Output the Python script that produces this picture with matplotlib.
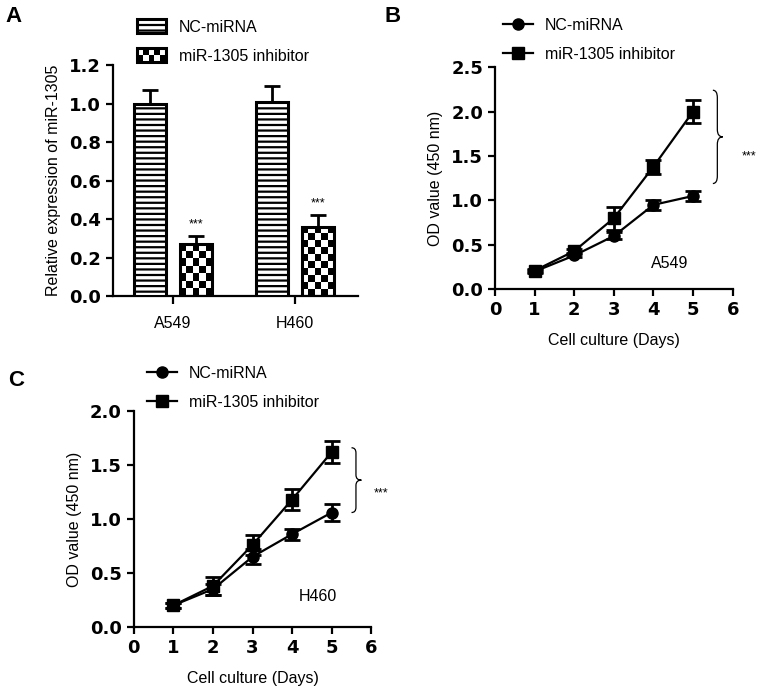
import numpy as np
import matplotlib
matplotlib.use("Agg")
import matplotlib.pyplot as plt
from matplotlib.patches import Rectangle, PathPatch
from matplotlib.path import Path
from matplotlib.lines import Line2D
from matplotlib.legend_handler import HandlerBase

# ---- data ----
cell_lines = ["A549", "H460"]
nc_expr = [1.00, 1.01]
nc_expr_err = [0.07, 0.08]
inh_expr = [0.27, 0.36]
inh_expr_err = [0.045, 0.06]

days = [1, 2, 3, 4, 5]
a549_nc = [0.20, 0.38, 0.60, 0.95, 1.05]
a549_nc_err = [0.02, 0.02, 0.04, 0.06, 0.06]
a549_inh = [0.21, 0.43, 0.80, 1.38, 2.00]
a549_inh_err = [0.02, 0.02, 0.13, 0.08, 0.13]

h460_nc = [0.20, 0.35, 0.65, 0.86, 1.06]
h460_nc_err = [0.02, 0.05, 0.07, 0.05, 0.08]
h460_inh = [0.20, 0.38, 0.76, 1.18, 1.62]
h460_inh_err = [0.02, 0.08, 0.09, 0.10, 0.10]

plt.rcParams['font.family'] = ['Liberation Sans', 'DejaVu Sans']
plt.rcParams['hatch.linewidth'] = 1.6
plt.rcParams['axes.linewidth'] = 1.6

LW = 1.6
tick_font = dict(family='DejaVu Sans', weight='bold', size=13)


def style_axes(ax):
    ax.spines['top'].set_visible(False)
    ax.spines['right'].set_visible(False)
    ax.tick_params(direction='out', length=5, width=LW)
    for lab in ax.get_yticklabels():
        lab.set_fontproperties(matplotlib.font_manager.FontProperties(**tick_font))


def checker(ax, patch, cell_px=7):
    # fill a bar with a black/white checkerboard clipped to the bar
    x, y = patch.get_x(), patch.get_y()
    w, h = patch.get_width(), patch.get_height()
    p0 = ax.transData.transform((x, y))
    p1 = ax.transData.transform((x + w, y + h))
    nx = max(1, int(round((p1[0] - p0[0]) / cell_px)))
    ny = max(1, int(round((p1[1] - p0[1]) / cell_px)))
    board = (np.indices((ny, nx)).sum(axis=0) % 2)
    im = ax.imshow(board, cmap='gray', extent=(x, x + w, y, y + h),
                   aspect='auto', interpolation='nearest', zorder=2)
    im.set_clip_path(patch)


class CheckerHandler(HandlerBase):
    def create_artists(self, legend, orig_handle, xdescent, ydescent,
                       width, height, fontsize, trans):
        arts = [Rectangle((-xdescent, -ydescent), width, height,
                          facecolor='white', edgecolor='none', transform=trans)]
        nx, ny = 5, 2
        cw, ch = width / nx, height / ny
        for i in range(nx):
            for j in range(ny):
                if (i + j) % 2 == 0:
                    arts.append(Rectangle((-xdescent + i * cw, -ydescent + j * ch), cw, ch,
                                          facecolor='black', edgecolor='none', transform=trans))
        arts.append(Rectangle((-xdescent, -ydescent), width, height, facecolor='none',
                              edgecolor='black', linewidth=2.2, transform=trans))
        return arts


def brace(ax, x0, x1, y0, y1):
    xm = x0 + 0.45 * (x1 - x0)
    ym = (y0 + y1) / 2
    r = 0.08 * (y1 - y0)
    verts = [(x0, y1), (xm, y1), (xm, y1 - r),
             (xm, ym + r), (xm, ym), (x1, ym),
             (xm, ym), (xm, ym - r),
             (xm, y0 + r), (xm, y0), (x0, y0)]
    codes = [Path.MOVETO, Path.CURVE3, Path.CURVE3,
             Path.LINETO, Path.CURVE3, Path.CURVE3,
             Path.CURVE3, Path.CURVE3,
             Path.LINETO, Path.CURVE3, Path.CURVE3]
    ax.add_patch(PathPatch(Path(verts, codes), facecolor='none', edgecolor='black',
                           linewidth=0.9, clip_on=False))


def growth_panel(ax, nc, nc_err, inh, inh_err, ymax, name, name_xy, brace_y, star_xy):
    kw = dict(color='black', linewidth=LW, elinewidth=2.0, capsize=6, capthick=2.0)
    ax.errorbar(days, nc, yerr=nc_err, marker='o', markersize=8, **kw)
    ax.errorbar(days, inh, yerr=inh_err, marker='s', markersize=8, **kw)
    ax.set_xlim(0, 6)
    ax.set_ylim(0, ymax)
    ax.set_xticks(range(7))
    ax.set_yticks(np.arange(0, ymax + 0.01, 0.5))
    ax.set_yticklabels([f"{v:.1f}" for v in np.arange(0, ymax + 0.01, 0.5)])
    ax.set_xticklabels([str(i) for i in range(7)], **tick_font)
    ax.set_ylabel('OD value (450 nm)', fontsize=11.5, labelpad=6)
    ax.set_xlabel('Cell culture (Days)', fontsize=11.5, labelpad=10)
    ax.text(name_xy[0], name_xy[1], name, fontsize=11.5, ha='center', va='center')
    brace(ax, 5.5, 5.75, brace_y[0], brace_y[1])
    ax.text(star_xy[0], star_xy[1], '***', fontsize=9, ha='center', va='center', clip_on=False)
    style_axes(ax)
    handles = [Line2D([], [], color='black', linewidth=LW, marker='o', markersize=8),
               Line2D([], [], color='black', linewidth=LW, marker='s', markersize=8)]
    return handles


series_labels = ['NC-miRNA', 'miR-1305 inhibitor']

fig = plt.figure(figsize=(7.64, 6.92), dpi=100)

# ---- panel A ----
axA = fig.add_axes([0.148, 0.572, 0.321, 0.334])
xc = np.arange(len(cell_lines))
bw, off = 0.26, 0.19
axA.set_xlim(-0.49, 1.52)
axA.set_ylim(0, 1.2)
ekw = dict(fmt='none', ecolor='black', elinewidth=2.0, capsize=6, capthick=2.0, zorder=1)
axA.errorbar(xc - off, nc_expr, yerr=[np.zeros(2), nc_expr_err], **ekw)
axA.errorbar(xc + off, inh_expr, yerr=[np.zeros(2), inh_expr_err], **ekw)
bars_nc = axA.bar(xc - off, nc_expr, bw, facecolor='white', edgecolor='black',
                  linewidth=2.2, hatch='---', zorder=3)
bars_inh = axA.bar(xc + off, inh_expr, bw, facecolor='none', edgecolor='black',
                   linewidth=2.2, zorder=3)
for p in bars_inh:
    checker(axA, p)
for x, v, e in zip(xc + off, inh_expr, inh_expr_err):
    axA.text(x, v + e + 0.06, '***', fontsize=9, ha='center', va='center')
axA.set_xticks(xc)
axA.set_xticklabels(cell_lines, fontsize=11.5)
axA.set_yticks(np.arange(0, 1.21, 0.2))
axA.set_yticklabels([f"{v:.1f}" for v in np.arange(0, 1.21, 0.2)])
axA.set_ylabel('Relative expression of miR-1305', fontsize=11.5, labelpad=6)
style_axes(axA)
axA.tick_params(axis='x', length=6, pad=8)
fig.legend(handles=[bars_nc, bars_inh], labels=series_labels,
           loc='upper left', bbox_to_anchor=(137 / 764, 1 - 19 / 692), frameon=False,
           fontsize=11.5, handlelength=1.8, handleheight=1.0, handletextpad=0.8,
           labelspacing=0.85, borderpad=0, borderaxespad=0,
           handler_map={bars_inh: CheckerHandler()})

# ---- panel B ----
axB = fig.add_axes([0.648, 0.582, 0.311, 0.321])
hB = growth_panel(axB, a549_nc, a549_nc_err, a549_inh, a549_inh_err, 2.5,
                  'A549', (4.4, 0.29), (1.19, 2.24), (6.42, 1.49))
fig.legend(hB, series_labels, loc='upper left',
           bbox_to_anchor=(503 / 764, 1 - 18 / 692), frameon=False, fontsize=11.5,
           handlelength=1.9, handletextpad=0.7, labelspacing=0.85, borderpad=0,
           borderaxespad=0)

# ---- panel C ----
axC = fig.add_axes([0.175, 0.094, 0.311, 0.312])
hC = growth_panel(axC, h460_nc, h460_nc_err, h460_inh, h460_inh_err, 2.0,
                  'H460', (4.66, 0.28), (1.06, 1.66), (6.25, 1.24))
fig.legend(hC, series_labels, loc='upper left',
           bbox_to_anchor=(147 / 764, 1 - 366 / 692), frameon=False, fontsize=11.5,
           handlelength=1.9, handletextpad=0.7, labelspacing=0.85, borderpad=0,
           borderaxespad=0)

# panel letters
fig.text(5 / 764, 1 - 17 / 692, 'A', fontsize=16, weight='bold', va='center')
fig.text(384 / 764, 1 - 16 / 692, 'B', fontsize=16, weight='bold', va='center')
fig.text(8 / 764, 1 - 380 / 692, 'C', fontsize=16, weight='bold', va='center')

fig.savefig('out.png', dpi=100)
